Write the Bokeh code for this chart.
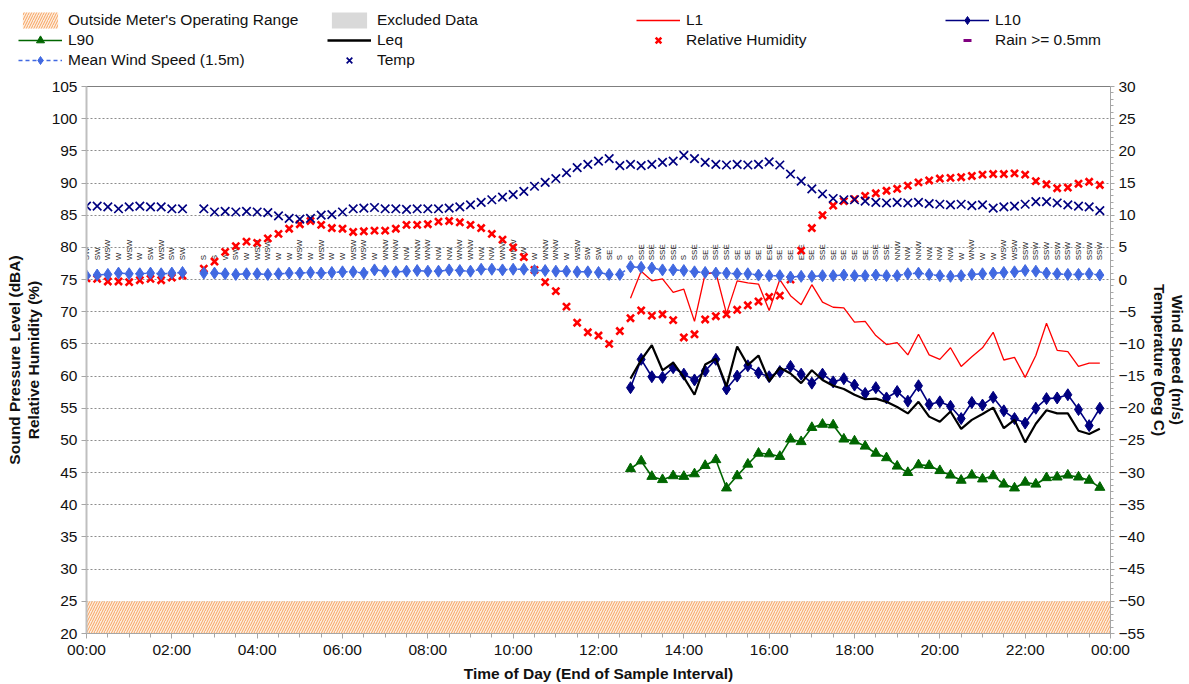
import math
from bokeh.plotting import figure
from bokeh.models import (Range1d, LinearAxis, FixedTicker, BoxAnnotation,
                          ColumnDataSource, Legend, LegendItem)
from bokeh.layouts import column
from bokeh.embed import file_html
from bokeh.resources import INLINE
from bokeh.core.properties import value

NA = float("nan")

# ---------------- data ----------------
interval_hours = 0.25
times = [i * interval_hours for i in range(96)]
sound_start = 51
sound_times = times[sound_start:]

rel_humidity = [
    75.2, 75.1, 74.7, 74.7, 74.6, 74.9, 75.1, 74.9, 75.3, 75.6,
    NA,
    76.7, 77.8, 79.3, 80.2, 80.9, 80.7, 81.4, 82.1, 82.9, 83.6, 84.1, 83.5, 83.0, 82.9, 82.4, 82.5, 82.6,
    82.6, 82.9, 83.5, 83.5, 83.6, 84.0, 84.1, 83.9, 83.5, 83.0, 82.1, 81.2, 80.0, 78.5, 76.5, 74.6, 73.2, 70.8,
    68.3, 66.8, 66.3, 65.0, 67.0, 69.0, 70.2, 69.4, 69.6, 68.7, 66.0, 66.5, 68.8, 69.3, 69.6, 70.3, 71.0, 71.6, 72.3, 72.5,
    75.0, 79.5, 83.0, 85.0, 86.5, 87.2, 87.5, 88.0, 88.4, 88.8, 89.1, 89.6, 90.1, 90.4, 90.7, 90.8, 90.9, 91.1, 91.3, 91.4,
    91.4, 91.5, 91.3, 90.3, 89.8, 89.2, 89.3, 89.9, 90.2, 89.7,
]

temperature = [
    11.4, 11.4, 11.3, 11.0, 11.3, 11.4, 11.3, 11.3, 11.0, 11.0,
    NA,
    11.0, 10.5, 10.6, 10.5, 10.6, 10.5, 10.4, 9.9, 9.5, 9.4, 9.5, 10.0, 10.1, 10.5, 11.0, 11.1, 11.2,
    11.0, 11.0, 10.9, 11.0, 11.0, 11.0, 11.1, 11.3, 11.6, 12.0, 12.4, 12.8, 13.2, 13.7, 14.5, 15.1, 15.7, 16.6,
    17.4, 17.9, 18.4, 18.8, 17.7, 17.9, 17.7, 17.9, 18.2,
    18.4, 19.3, 18.8, 18.2, 17.9, 17.8, 17.9, 17.8, 17.9, 18.3,
    17.8, 16.4, 15.3, 14.1, 13.3, 12.6, 12.4, 12.4, 12.2, 12.0,
    11.9, 12.0, 11.9, 12.0, 11.8, 11.7, 11.6, 11.7, 11.5, 11.6,
    11.1, 11.3, 11.4, 11.7, 12.1, 12.1, 11.9, 11.6, 11.4, 11.3,
    10.7,
]

wind_speed = [
    0.6, 0.7, 0.8, 1.0, 0.9, 0.9, 1.0, 0.9, 1.0, 1.1,
    NA,
    1.0, 1.0, 0.9, 0.8, 0.9, 0.9, 0.8, 0.9, 1.0, 1.0, 1.1, 1.0, 1.1, 1.2, 1.2, 1.0, 1.5,
    1.3, 1.2, 1.3, 1.4, 1.3, 1.3, 1.5, 1.4, 1.3, 1.6, 1.6, 1.5, 1.6, 1.6, 1.4, 1.4, 1.3, 1.3, 1.2, 1.2, 1.1, 0.8, 0.8,
    2.0, 1.9, 1.8, 1.5, 1.5, 1.4, 1.2, 1.1, 1.0, 1.0, 0.9, 0.9, 0.7, 0.6, 0.6, 0.4, 0.5, 0.5, 0.6, 0.6,
    0.7, 0.6, 0.6, 0.7, 0.6, 0.6, 0.9, 1.0, 0.8, 0.6, 0.5, 0.6, 0.8, 0.9, 1.0, 1.1, 1.2, 1.4, 1.3, 1.0,
    0.9, 0.8, 0.8, 0.9, 0.7,
]

wind_dir = [
    "SW", "SW", "WSW", "W", "WSW", "W", "SW", "WSW", "SW", "SW",
    "",
    "S", "S", "W", "SW", "W", "WSW", "WSW", "W", "W", "WSW", "W", "WSW", "W", "W", "WSW", "WSW", "W",
    "WNW", "WNW", "NW", "WNW", "WNW", "NW", "NW", "WNW", "WNW", "NW", "NW", "WNW", "WNW", "NW", "W",
    "WNW", "WNW", "W", "WSW", "SW", "SW", "SE", "S",
    "S", "SSE", "SSE", "SSE", "SSE", "S", "SSE", "SE", "SSE", "SSE", "SE", "SE", "SE", "ESE", "SE",
    "SE", "ESE", "SE", "SSE", "SE", "SE", "SE", "SE", "SSE", "SSE", "NNW", "NW", "NNW", "NW", "NW",
    "NW", "W", "WNW", "W", "W", "WSW", "WSW", "SSW", "SSW", "SSW", "SSW", "SSW", "SSW", "SSW", "SSW",
]

L1 = [72.1, 76.3, 74.8, 75.1, 73.0, 73.5, 68.5, 75.9, 76.1, 69.7,
      74.8, 74.5, 74.3, 70.2, 75.0, 72.5, 71.1, 74.2, 71.5, 70.7,
      70.6, 68.4, 68.5, 66.3, 64.9, 65.2, 63.3, 66.5, 63.3, 62.6,
      64.4, 61.5, 63.0, 64.4, 66.8, 62.5, 62.9, 59.8, 63.2, 68.2,
      64.0, 63.8, 61.5, 62.0, 62.0]

L10 = [58.2, 62.6, 59.9, 59.8, 61.3, 60.3, 59.4, 60.8, 62.6, 58.0,
       60.0, 61.6, 60.5, 59.9, 60.7, 61.5, 60.3, 58.9, 60.3, 59.1,
       59.6, 58.6, 57.3, 58.2, 56.6, 57.6, 56.1, 58.5, 55.6, 56.0,
       55.3, 53.4, 55.9, 55.5, 56.7, 54.6, 53.4, 52.7, 55.0, 56.5,
       56.6, 57.1, 54.8, 52.3, 55.0]

L90 = [45.6, 46.8, 44.4, 43.9, 44.5, 44.4, 44.8, 46.1, 47.0, 42.6,
       44.5, 46.3, 48.0, 47.9, 47.5, 50.2, 49.8, 52.0, 52.5, 52.4,
       50.2, 49.9, 49.1, 48.0, 47.3, 46.0, 45.0, 46.2, 46.1, 45.3,
       44.6, 43.8, 44.6, 44.0, 44.5, 43.2, 42.6, 43.5, 43.2, 44.2,
       44.3, 44.6, 44.3, 43.8, 42.7]

Leq = [59.6, 62.5, 64.8, 60.9, 62.1, 59.8, 57.1, 61.8, 62.7, 58.4,
       64.6, 61.7, 63.2, 59.2, 61.3, 60.4, 58.9, 60.9, 59.4, 58.5,
       58.0, 57.1, 56.4, 56.5, 56.0, 55.2, 54.2, 56.0, 53.7, 52.9,
       54.5, 51.8, 53.2, 54.1, 55.1, 51.9, 53.2, 49.7, 52.6, 54.7,
       54.2, 54.2, 51.5, 51.0, 51.8]

meter_floor = 25  # lower limit of meter's operating range (dBA)

x_tick_hours = [0, 2, 4, 6, 8, 10, 12, 14, 16, 18, 20, 22, 24]
x_tick_labels = ["00:00", "02:00", "04:00", "06:00", "08:00", "10:00", "12:00",
                 "14:00", "16:00", "18:00", "20:00", "22:00", "00:00"]
left_ticks = list(range(20, 110, 5))
right_ticks = list(range(-55, 35, 5))

# ---------------- styles ----------------
FONT = "Liberation Sans"
C_L1 = "#FF0000"
C_L10 = "#000080"
C_L90 = "#006600"
C_LEQ = "#000000"
C_RH = "#FF0000"
C_WIND = "#4169E1"
C_TEMP = "#000080"
C_RAIN = "#800080"
HATCH_FILL = "#FDEEE0"
HATCH_COL = "#F7A25E"
TXT = "#111111"
FS = "15.5px"


def no_frame_align(fig):
    if "frame_align" in fig.properties():
        fig.frame_align = False


# ---------------- main plot ----------------
p = figure(width=1189, height=608, x_range=Range1d(0, 24), y_range=Range1d(20, 105),
           min_border_left=86, min_border_right=76, min_border_top=10, min_border_bottom=49,
           output_backend="svg", toolbar_location=None)
no_frame_align(p)
p.extra_y_ranges = {"right": Range1d(-55, 30)}
p.outline_line_color = "#7f7f7f"
p.background_fill_color = "white"

band = BoxAnnotation(top=meter_floor, fill_color=HATCH_FILL, fill_alpha=1.0,
                     hatch_pattern="/", hatch_color=HATCH_COL, hatch_scale=5,
                     hatch_weight=1, line_color=None, level="underlay")
p.add_layout(band)

# wind direction labels
dir_src = ColumnDataSource(dict(t=times, d=wind_dir))
p.text(x="t", y=78, text="d", source=dir_src, angle=math.pi / 2,
       text_align="left", text_baseline="middle", text_font=value(FONT),
       text_font_size="8px", text_color="#222222")

p.line(sound_times, L1, color=C_L1, line_width=1.3)
p.line(sound_times, L90, color=C_L90, line_width=1.6)
p.scatter(sound_times, L90, marker="triangle", size=10, color=C_L90)
p.line(sound_times, L10, color=C_L10, line_width=1.6)
p.scatter(sound_times, L10, marker="diamond", size=12, color=C_L10)
p.line(sound_times, Leq, color=C_LEQ, line_width=2.2)

p.scatter(times, rel_humidity, marker="x", size=10, line_color=C_RH, line_width=2.6)
p.line(times, wind_speed, y_range_name="right", color=C_WIND, line_dash="4 3", line_width=1.5)
p.scatter(times, wind_speed, y_range_name="right", marker="diamond", size=12, color=C_WIND)
p.scatter(times, temperature, y_range_name="right", marker="x", size=12,
          line_color=C_TEMP, line_width=1.7)

# grid
p.xgrid.visible = False
p.ygrid.ticker = FixedTicker(ticks=list(range(25, 105, 5)))
p.ygrid.grid_line_color = "#8c8c8c"
p.ygrid.grid_line_dash = "2 2"
p.ygrid.grid_line_width = 1

# left axis
yl = p.yaxis[0]
yl.ticker = FixedTicker(ticks=left_ticks)
yl.axis_label = "Sound Pressure Level (dBA)\nRelative Humidity (%)"
# x axis
xa = p.xaxis[0]
xa.ticker = FixedTicker(ticks=x_tick_hours, minor_ticks=[h / 2 for h in range(0, 49)])
xa.major_label_overrides = {h: lab for h, lab in zip(x_tick_hours, x_tick_labels)}
xa.axis_label = "Time of Day (End of Sample Interval)"
# right axis
yr = LinearAxis(y_range_name="right",
                ticker=FixedTicker(ticks=right_ticks, minor_ticks=list(range(-55, 31))),
                axis_label="Wind Speed (m/s)\nTemperature (Deg C)")
p.add_layout(yr, "right")

for ax in (yl, xa, yr):
    ax.axis_label_text_font = FONT
    ax.axis_label_text_font_style = "bold"
    ax.axis_label_text_color = TXT
    ax.axis_label_text_font_size = FS
    ax.major_label_text_font = FONT
    ax.major_label_text_color = TXT
    ax.major_label_text_font_size = FS
    ax.axis_line_color = "#A6A6A6"
    ax.major_tick_line_color = "#A6A6A6"
    ax.minor_tick_line_color = "#A6A6A6"
    ax.major_tick_in = 0
    ax.minor_tick_in = 0
    ax.axis_label_text_line_height = 1.1

yl.major_tick_out = 5
yl.minor_tick_out = 0
yl.major_label_standoff = 4
yl.axis_label_standoff = 7
yl.axis_line_color = "#BFBFBF"
yl.axis_line_width = 2

xa.major_tick_out = 5
xa.minor_tick_out = 4
xa.major_label_standoff = 2
xa.axis_label_standoff = 4

yr.major_tick_out = 4
yr.minor_tick_out = 3
yr.major_label_standoff = 4
yr.axis_label_standoff = 3

# ---------------- legend strip ----------------
lf = figure(width=1189, height=76, x_range=Range1d(0, 1), y_range=Range1d(0, 1),
            x_axis_type=None, y_axis_type=None,
            min_border_left=0, min_border_right=0, min_border_top=0, min_border_bottom=0,
            output_backend="svg", toolbar_location=None)
no_frame_align(lf)
lf.outline_line_color = None

# one off-screen point each, only so that the legend draws the glyph samples
ox, oy = [-10], [-10]
g_band = lf.quad(left=[-10], right=[-9], top=[-9], bottom=[-10], fill_color=HATCH_FILL,
                 hatch_pattern="/", hatch_color=HATCH_COL, hatch_scale=5, hatch_weight=1,
                 line_color=None)
g_excl = lf.quad(left=[-10], right=[-9], top=[-9], bottom=[-10], fill_color="#D9D9D9",
                 line_color=None)
g_l1 = lf.line(ox, oy, color=C_L1, line_width=1.3)
g_l10l = lf.line(ox, oy, color=C_L10, line_width=1.6)
g_l10m = lf.scatter(ox, oy, marker="diamond", size=12, color=C_L10)
g_l90l = lf.line(ox, oy, color=C_L90, line_width=1.6)
g_l90m = lf.scatter(ox, oy, marker="triangle", size=10, color=C_L90)
g_leq = lf.line(ox, oy, color=C_LEQ, line_width=2.5)
g_rh = lf.scatter(ox, oy, marker="x", size=9, line_color=C_RH, line_width=2.6)
g_rain = lf.scatter(ox, oy, marker="dash", size=11, line_color=C_RAIN, line_width=3)
g_wl = lf.line(ox, oy, color=C_WIND, line_dash="4 3", line_width=1.5)
g_wm = lf.scatter(ox, oy, marker="diamond", size=12, color=C_WIND)
g_temp = lf.scatter(ox, oy, marker="x", size=11, line_color=C_TEMP, line_width=1.7)

items = [
    LegendItem(label="Outside Meter's Operating Range", renderers=[g_band]),
    LegendItem(label="Excluded Data", renderers=[g_excl]),
    LegendItem(label="L1", renderers=[g_l1]),
    LegendItem(label="L10", renderers=[g_l10l, g_l10m]),
    LegendItem(label="L90", renderers=[g_l90l, g_l90m]),
    LegendItem(label="Leq", renderers=[g_leq]),
    LegendItem(label="Relative Humidity", renderers=[g_rh]),
    LegendItem(label="Rain >= 0.5mm", renderers=[g_rain]),
    LegendItem(label="Mean Wind Speed (1.5m)", renderers=[g_wl, g_wm]),
    LegendItem(label="Temp", renderers=[g_temp]),
]
leg = Legend(items=items, location=(18, 6), orientation="horizontal", ncols=4,
             glyph_width=44, glyph_height=20, label_height=20, label_width=259,
             label_standoff=6, spacing=0, padding=0, margin=0,
             border_line_color=None, background_fill_alpha=0,
             label_text_font=FONT, label_text_font_size=FS, label_text_color=TXT)
lf.add_layout(leg)

layout = column(lf, p)
open("out.html", "w").write(file_html(layout, INLINE))
